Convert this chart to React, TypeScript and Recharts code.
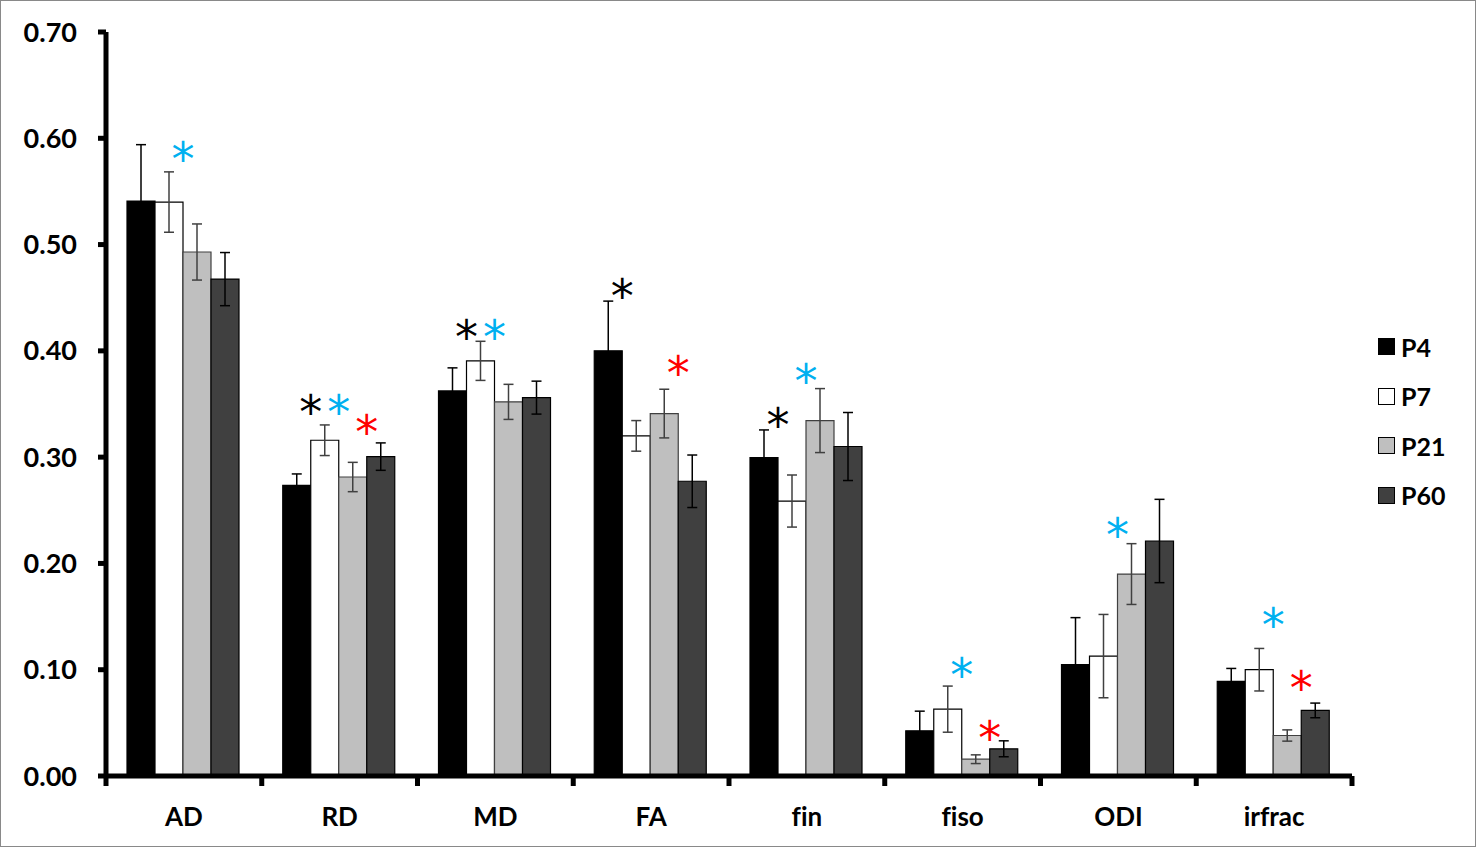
import { BarChart, Bar, XAxis, YAxis, ErrorBar, LabelList, Legend } from 'recharts';

const categories = ['AD', 'RD', 'MD', 'FA', 'fin', 'fiso', 'ODI', 'irfrac'];

const p4 = [0.541, 0.2735, 0.3623, 0.4, 0.2996, 0.0425, 0.1047, 0.089];
const p4Err = [0.053, 0.0107, 0.0217, 0.0468, 0.026, 0.0185, 0.0443, 0.0122];
const p7 = [0.540, 0.3159, 0.3906, 0.32, 0.2587, 0.0629, 0.1128, 0.1];
const p7Err = [0.0284, 0.0144, 0.0184, 0.0144, 0.0245, 0.0217, 0.0392, 0.02];
const p21 = [0.493, 0.2813, 0.352, 0.341, 0.3344, 0.0158, 0.19, 0.0381];
const p21Err = [0.0264, 0.0138, 0.0165, 0.0229, 0.0301, 0.0041, 0.0286, 0.0053];
const p60 = [0.4675, 0.3005, 0.356, 0.2773, 0.31, 0.0256, 0.2211, 0.0617];
const p60Err = [0.025, 0.0129, 0.0155, 0.0247, 0.032, 0.0075, 0.0392, 0.0069];

// significance marks (height of the asterisk), null = none
const starP4P7 = [null, 0.35, 0.421, 0.4587, 0.3378, null, null, null];
const starP7P21 = [0.588, 0.35, 0.421, null, 0.3792, 0.1024, 0.2343, 0.1495];
const starP21P60 = [null, 0.3316, null, 0.3865, null, 0.0435, null, 0.0899];

const yTicks = [0, 0.1, 0.2, 0.3, 0.4, 0.5, 0.6, 0.7];

const seriesNames = ['P4', 'P7', 'P21', 'P60'];
const seriesFills = ['#000000', '#ffffff', '#bfbfbf', '#404040'];

const data = categories.map((name, i) => ({
    name,
    P4: p4[i],
    p4Err: p4Err[i],
    P7: p7[i],
    p7Err: p7Err[i],
    P21: p21[i],
    p21Err: p21Err[i],
    P60: p60[i],
    p60Err: p60Err[i],
    starBlack: starP4P7[i],
    starBlue: starP7P21[i],
    starRed: starP21P60[i]
}));

const W = 1476;
const H = 847;
const LEFT = 106;
const RIGHT = 124;
const FONT = 'Lato, "Open Sans", sans-serif';
const plotW = W - LEFT - RIGHT;

const makeStar = (color: string, barKey: string) => (props: any) => {
    const { x, y, width, height, value, index } = props;
    if (value == null) return null;
    const barVal = (data[index] as any)[barKey];
    const bottom = Number(y) + Number(height);
    const cy = bottom - value * (Number(height) / barVal);
    return (
        <text
            x={Number(x) + Number(width)}
            y={cy + 24}
            textAnchor="middle"
            fill={color}
            fontSize={46}
            fontFamily='"DejaVu Sans", sans-serif'
        >
            *
        </text>
    );
};

const XTick = (props: any) => {
    const { x, y, payload, index } = props;
    const step = plotW / categories.length;
    return (
        <g>
            <line x1={x - step / 2} x2={x - step / 2} y1={y} y2={y + 10} stroke="#000" strokeWidth={5} />
            {index === categories.length - 1 && (
                <line x1={x + step / 2} x2={x + step / 2} y1={y} y2={y + 10} stroke="#000" strokeWidth={5} />
            )}
            <text
                x={x}
                y={y + 50}
                textAnchor="middle"
                fontSize={26}
                fontWeight="bold"
                fontFamily={FONT}
                fill="#000"
                style={{ fontVariantLigatures: 'none' }}
            >
                {payload.value}
            </text>
        </g>
    );
};

const LegendBox = () => (
    <div style={{ fontFamily: FONT, fontWeight: 'bold', fontSize: 25 }}>
        {seriesNames.map((name, i) => (
            <div key={name} style={{ display: 'flex', alignItems: 'center', height: 49.5 }}>
                <span
                    style={{
                        display: 'inline-block',
                        width: 15,
                        height: 15,
                        background: seriesFills[i],
                        border: '1px solid #000',
                        marginRight: 6
                    }}
                />
                <span>{name}</span>
            </div>
        ))}
    </div>
);

export default function App() {
    return (
        <div style={{ position: 'relative', width: W, height: H, background: '#fff' }}>
            <style>{'body{margin:0}'}</style>
            <BarChart
                width={W}
                height={H}
                data={data}
                margin={{ top: 32, right: RIGHT, bottom: 0, left: 0 }}
                barCategoryGap={21}
                barGap={0}
            >
                <XAxis
                    dataKey="name"
                    height={71}
                    axisLine={{ stroke: '#000', strokeWidth: 5 }}
                    tickLine={false}
                    tickSize={0}
                    tickMargin={0}
                    tick={<XTick />}
                    interval={0}
                />
                <YAxis
                    type="number"
                    domain={[0, 0.7]}
                    ticks={yTicks}
                    width={LEFT}
                    axisLine={{ stroke: '#000', strokeWidth: 5 }}
                    tickLine={{ stroke: '#000', strokeWidth: 5 }}
                    tickSize={8}
                    tickMargin={21}
                    tickFormatter={(v: number) => v.toFixed(2)}
                    tick={{ fontSize: 27, fontWeight: 'bold', fontFamily: FONT, fill: '#000' }}
                />
                <Legend
                    layout="vertical"
                    align="center"
                    verticalAlign="middle"
                    content={<LegendBox />}
                    wrapperStyle={{ left: 1378, top: 322, width: 'auto' }}
                />
                <Bar dataKey="P4" fill={seriesFills[0]} stroke="#000" strokeWidth={1.2} isAnimationActive={false}>
                    <ErrorBar dataKey="p4Err" width={5} stroke="#000" strokeWidth={1.5} />
                    <LabelList dataKey="starBlack" content={makeStar('#000000', 'P4')} />
                </Bar>
                <Bar dataKey="P7" fill={seriesFills[1]} stroke="#000" strokeWidth={1.2} isAnimationActive={false}>
                    <ErrorBar dataKey="p7Err" width={5} stroke="#404040" strokeWidth={1.5} />
                    <LabelList dataKey="starBlue" content={makeStar('#00b0f0', 'P7')} />
                </Bar>
                <Bar dataKey="P21" fill={seriesFills[2]} stroke="#404040" strokeWidth={1.2} isAnimationActive={false}>
                    <ErrorBar dataKey="p21Err" width={5} stroke="#404040" strokeWidth={1.5} />
                    <LabelList dataKey="starRed" content={makeStar('#ff0000', 'P21')} />
                </Bar>
                <Bar dataKey="P60" fill={seriesFills[3]} stroke="#000" strokeWidth={1.2} isAnimationActive={false}>
                    <ErrorBar dataKey="p60Err" width={5} stroke="#000" strokeWidth={1.5} />
                </Bar>
            </BarChart>
            <div
                style={{
                    position: 'absolute',
                    left: 0,
                    top: 0,
                    width: W,
                    height: H,
                    boxSizing: 'border-box',
                    border: '1px solid #898989',
                    pointerEvents: 'none'
                }}
            />
        </div>
    );
}
